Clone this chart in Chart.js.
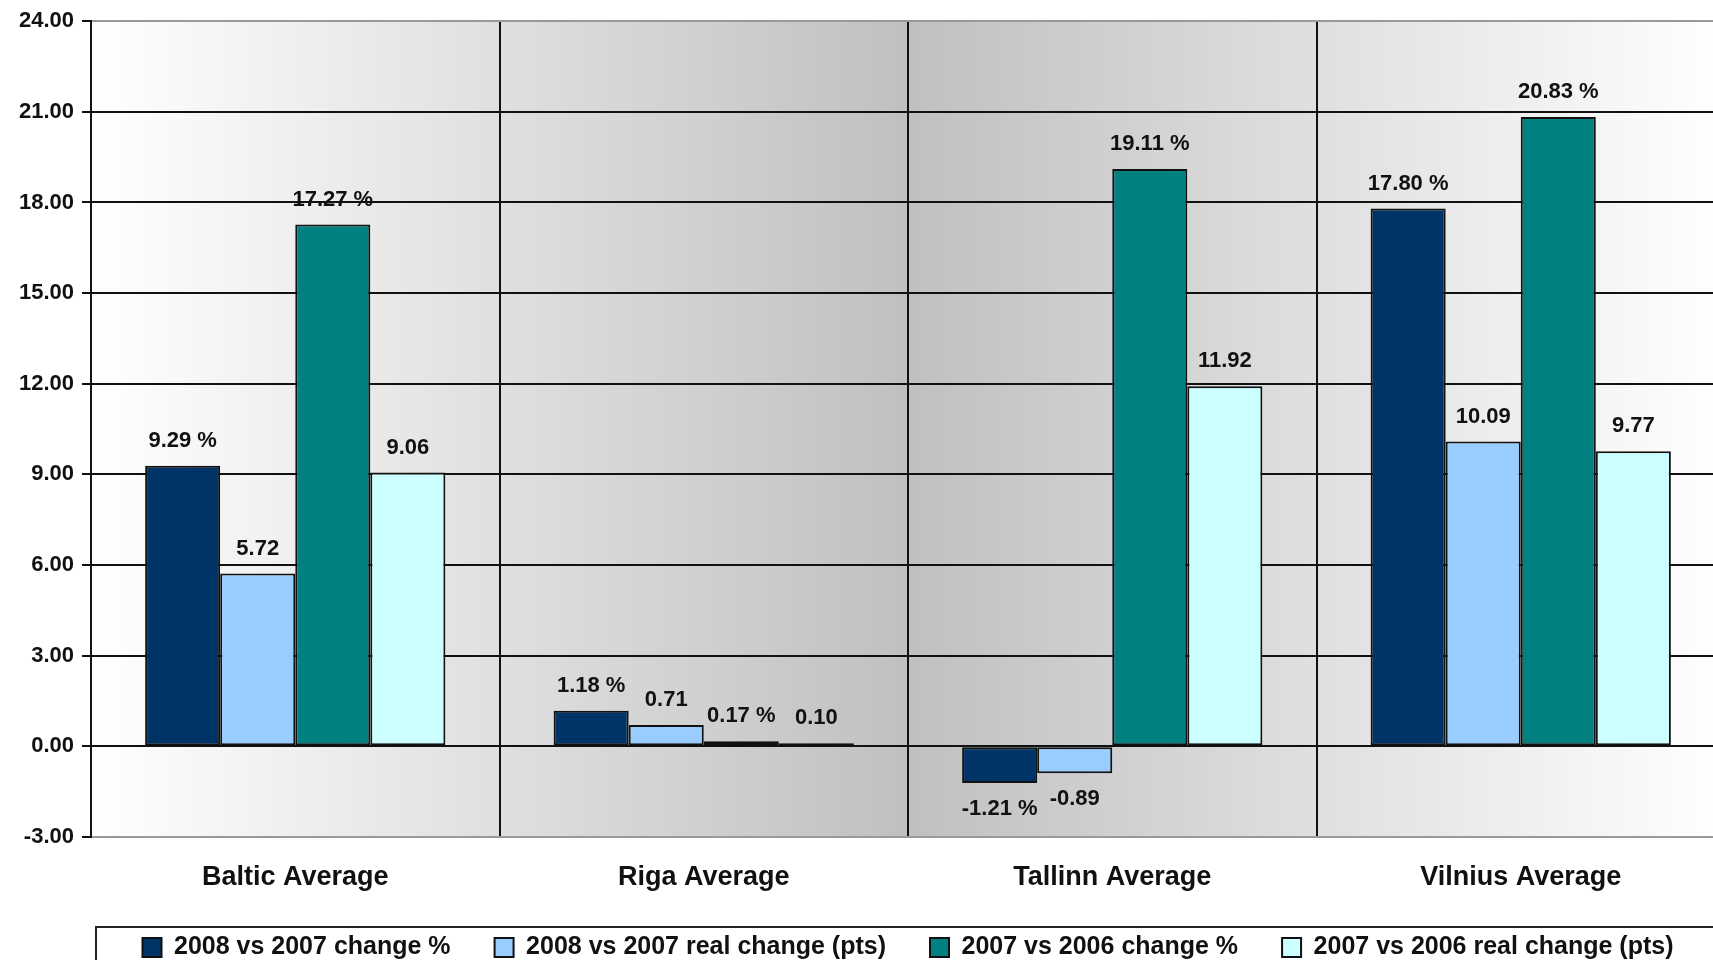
<!DOCTYPE html>
<html>
<head>
<meta charset="UTF-8">
<title>Baltic averages</title>
<script src="https://cdn.jsdelivr.net/npm/chart.js@4.4.0/dist/chart.umd.min.js"></script>
<style>
    html, body { margin: 0; padding: 0; background: #fff; overflow: hidden; }
    #frame { width: 1713px; height: 960px; overflow: hidden; }
    #wrap { width: 1740px; height: 970px; position: relative; }
</style>
</head>
<body>
<div id="frame"><div id="wrap"><canvas id="myChart"></canvas></div></div>
<script>
    // chart values
    var categories = ['Baltic Average', 'Riga Average', 'Tallinn Average', 'Vilnius Average'];
    var change0807 = [9.29, 1.18, -1.21, 17.80];
    var real0807 = [5.72, 0.71, -0.89, 10.09];
    var change0706 = [17.27, 0.17, 19.11, 20.83];
    var real0706 = [9.06, 0.10, 11.92, 9.77];
    var seriesNames = ['2008 vs 2007 change %', '2008 vs 2007 real change (pts)', '2007 vs 2006 change %', '2007 vs 2006 real change (pts)'];
    var labelSuffix = [' %', '', ' %', ''];
    var yMin = -3, yMax = 24, yStep = 3;

    var FONT = '"Liberation Sans", Arial, sans-serif';
    Chart.defaults.font.family = FONT;

    // grey gradient behind the plot: white at the edges, darker in the middle
    var plotBackground = {
        id: 'plotBackground',
        beforeDraw: function (chart) {
            var a = chart.chartArea, ctx = chart.ctx;
            var g = ctx.createLinearGradient(a.left, 0, a.right, 0);
            g.addColorStop(0, '#ffffff');
            g.addColorStop(0.5, '#c0c0c0');
            g.addColorStop(1, '#ffffff');
            ctx.save();
            ctx.fillStyle = g;
            ctx.fillRect(a.left, a.top, a.right - a.left, a.bottom - a.top);
            ctx.restore();
        }
    };

    // value labels above (or under) each bar
    var valueLabels = {
        id: 'valueLabels',
        afterDatasetsDraw: function (chart) {
            var ctx = chart.ctx;
            ctx.save();
            ctx.font = 'bold 22px ' + FONT;
            ctx.fillStyle = '#111';
            ctx.textAlign = 'center';
            ctx.textBaseline = 'middle';
            chart.data.datasets.forEach(function (ds, i) {
                chart.getDatasetMeta(i).data.forEach(function (bar, j) {
                    var v = ds.data[j];
                    var y = v >= 0 ? bar.y - 25 : bar.y + 26;
                    ctx.fillText(v.toFixed(2) + labelSuffix[i], bar.x, y);
                });
            });
            ctx.restore();
        }
    };

    // frame round the legend
    var legendFrame = {
        id: 'legendFrame',
        afterDraw: function (chart) {
            var lg = chart.legend, ctx = chart.ctx;
            var pad = lg.options.labels.padding;
            ctx.save();
            ctx.strokeStyle = '#222';
            ctx.lineWidth = 2;
            ctx.strokeRect(lg.left + 5, lg.top + pad + 12 - 20, chart.width, 200);
            ctx.restore();
        }
    };

    var ctx = document.getElementById('myChart').getContext('2d');
    var chart = new Chart(ctx, {
        type: 'bar',
        data: {
            labels: categories,
            datasets: [
                { label: seriesNames[0], data: change0807, backgroundColor: '#003366' },
                { label: seriesNames[1], data: real0807, backgroundColor: '#99ccff' },
                { label: seriesNames[2], data: change0706, backgroundColor: '#008080' },
                { label: seriesNames[3], data: real0706, backgroundColor: '#ccffff' }
            ]
        },
        options: {
            responsive: true,
            maintainAspectRatio: false,
            animation: false,
            layout: { padding: { top: 20, right: 15, bottom: 0, left: 0 } },
            datasets: {
                bar: {
                    categoryPercentage: 0.735,
                    barPercentage: 1.0,
                    borderColor: '#111',
                    borderWidth: 2,
                    borderSkipped: false
                }
            },
            plugins: {
                legend: {
                    position: 'bottom',
                    fullSize: false,
                    labels: {
                        boxWidth: 19,
                        boxHeight: 19,
                        padding: 44,
                        color: '#111',
                        font: { size: 25, weight: 'bold' }
                    }
                },
                tooltip: { enabled: false }
            },
            scales: {
                x: {
                    grid: { color: '#111', lineWidth: 2, offset: true, drawTicks: false },
                    border: { color: '#999', width: 2 },
                    ticks: { padding: 24, color: '#111', font: { size: 27, weight: 'bold' } },
                    afterFit: function (s) { s.height = 54; }
                },
                y: {
                    min: yMin,
                    max: yMax,
                    ticks: {
                        stepSize: yStep,
                        padding: 8,
                        color: '#111',
                        font: { size: 22, weight: 'bold' },
                        callback: function (v) { return v.toFixed(2); }
                    },
                    grid: {
                        lineWidth: 2,
                        tickLength: 9,
                        tickColor: '#111',
                        color: function (c) {
                            return (c.tick && (c.tick.value === yMax || c.tick.value === yMin)) ? '#999' : '#111';
                        }
                    },
                    border: { color: '#111', width: 2 },
                    afterFit: function (s) { s.width = 91; }
                }
            }
        },
        plugins: [plotBackground, valueLabels, legendFrame]
    });
</script>
</body>
</html>
